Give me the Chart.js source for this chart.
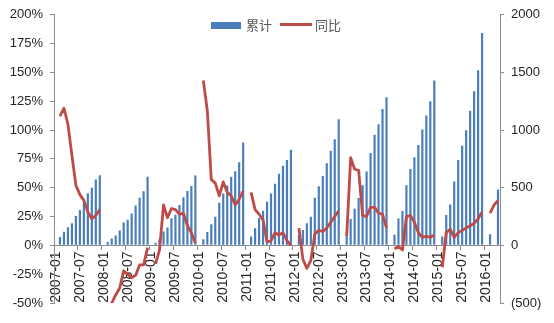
<!DOCTYPE html>
<html>
<head>
<meta charset="utf-8">
<script src="https://cdn.jsdelivr.net/npm/chart.js@4.4.1/dist/chart.umd.min.js"></script>
<style>
  html, body { margin: 0; padding: 0; background: #fff; }
  #wrap { width: 554px; height: 323px; }
</style>
</head>
<body>
<div id="wrap"><canvas id="chart" width="554" height="323"></canvas></div>
<script>
// months 2007-01 .. 2016-04
const firstYear = 2007;
const lastYear = 2016;
const lastMonth = 4;
const months = [];
for (let y = firstYear; y <= lastYear; y++) {
  for (let m = 1; m <= 12; m++) {
    if (y === lastYear && m > lastMonth) break;
    months.push(y + "-" + String(m).padStart(2, "0"));
  }
}

// 累计 (right axis), one row per year, Jan is not reported
const cumulative = [
  null, 72, 117, 157, 192, 255, 306, 380, 452, 500, 572, 609,       // 2007
  null, 29, 60, 85, 129, 200, 222, 277, 345, 413, 469, 595,         // 2008
  null, 22, 53, 120, 156, 235, 265, 351, 418, 472, 515, 605,        // 2009
  null, 54, 115, 183, 249, 370, 449, 520, 595, 643, 721, 893,       // 2010
  null, 77, 149, 237, 300, 378, 449, 535, 621, 690, 740, 830,       // 2011
  null, 89, 134, 192, 249, 412, 512, 601, 712, 821, 921, 1093,      // 2012
  null, 96, 229, 318, 410, 521, 641, 801, 960, 1050, 1182, 1285,    // 2013
  null, 93, 232, 299, 521, 662, 764, 870, 1004, 1127, 1250, 1430,   // 2014
  null, 77, 263, 355, 555, 741, 864, 999, 1167, 1336, 1519, 1842,   // 2015
  null, 97, null, 484                                               // 2016
];

// 同比 in % (left axis)
const yoy = [
  null, 112, 119, 105, 78, 52, 44, 39, 29, 23, 26, 31,     // 2007
  null, -60, -50, -43, -37, -22, -25, -28, -26, -17, -17, -2, // 2008
  null, -16, -4, 35, 24, 32, 31, 27, 28, 17, 11, 2,        // 2009
  null, 143, 117, 57, 54, 43, 55, 46, 43, 35, 40, 47,      // 2010
  null, 46, 31, 27, 22, 3, 4, 11, 9, 11, 4, 0,             // 2011
  null, 15, -12, -20, -13, 10, 13, 12, 15, 20, 25, 30,     // 2012
  null, 8, 76, 66, 65, 26, 25, 33, 33, 28, 27, 15,         // 2013
  null, -3, -1, -4, 25, 26, 20, 11, 7, 8, 7, 9,            // 2014
  null, -19, 11, 14, 7, 11, 13, 15, 17, 19, 23, 29,        // 2015
  null, 28, 35, 39                                         // 2016
];

const labelEvery = 6;
const barBlue = "#4a7ebb";
const lineRed = "#be4b48";
const axisGrey = "#8c8c8c";
const textColor = "#262626";

// legend drawn inside the plot, like the original
const inlineLegend = {
  id: "inlineLegend",
  afterDraw(chart) {
    const ctx = chart.ctx;
    const ds = chart.data.datasets;
    ctx.save();
    ctx.font = '13px "Noto Sans CJK SC", sans-serif';
    ctx.textBaseline = "middle";
    ctx.fillStyle = barBlue;
    ctx.fillRect(211, 22, 30, 7);
    ctx.fillStyle = "#595959";
    ctx.fillText(ds[1].label, 246, 25);
    ctx.strokeStyle = lineRed;
    ctx.lineWidth = 3;
    ctx.beginPath();
    ctx.moveTo(280, 24.5);
    ctx.lineTo(312, 24.5);
    ctx.stroke();
    ctx.fillText(ds[0].label, 315, 25);
    ctx.restore();
  }
};

new Chart(document.getElementById("chart"), {
  type: "bar",
  data: {
    labels: months,
    datasets: [
      {
        type: "line",
        label: "同比",
        data: yoy,
        yAxisID: "y",
        borderColor: lineRed,
        backgroundColor: lineRed,
        borderWidth: 2.8,
        pointRadius: 0,
        tension: 0,
        spanGaps: false,
        borderJoinStyle: "round",
        order: 0
      },
      {
        label: "累计",
        data: cumulative,
        yAxisID: "y1",
        backgroundColor: barBlue,
        categoryPercentage: 1,
        barPercentage: 0.55,
        order: 1
      }
    ]
  },
  options: {
    responsive: false,
    animation: false,
    layout: { padding: { top: 11, bottom: 20, left: 0, right: 0 } },
    plugins: {
      legend: { display: false },
      tooltip: { enabled: false }
    },
    scales: {
      x: {
        position: { y: 0 },
        offset: true,
        border: { display: true, color: axisGrey },
        grid: {
          offset: true,
          drawOnChartArea: false,
          drawTicks: true,
          tickLength: 4,
          color: c => (c.index % labelEvery === 0 ? axisGrey : "rgba(0,0,0,0)")
        },
        ticks: {
          autoSkip: false,
          minRotation: 90,
          maxRotation: 90,
          padding: 2,
          color: textColor,
          font: { family: "Liberation Sans", size: 14 },
          callback: (v, i) => (i % labelEvery === 0 ? months[i] : "")
        }
      },
      y: {
        position: "left",
        min: -50,
        max: 200,
        afterFit: s => { s.width = 54; },
        border: { display: true, color: axisGrey },
        grid: { drawOnChartArea: false, drawTicks: true, tickLength: 4, color: axisGrey },
        ticks: {
          stepSize: 25,
          padding: 7,
          color: textColor,
          font: { family: "Liberation Sans", size: 13 },
          callback: v => v + "%"
        }
      },
      y1: {
        position: "right",
        min: -500,
        max: 2000,
        afterFit: s => { s.width = 54; },
        border: { display: true, color: axisGrey },
        grid: { drawOnChartArea: false, drawTicks: true, tickLength: 4, color: axisGrey },
        ticks: {
          stepSize: 500,
          padding: 7,
          color: textColor,
          font: { family: "Liberation Sans", size: 13 },
          callback: v => (v < 0 ? "(" + (-v) + ")" : v)
        }
      }
    }
  },
  plugins: [inlineLegend]
});
</script>
</body>
</html>
